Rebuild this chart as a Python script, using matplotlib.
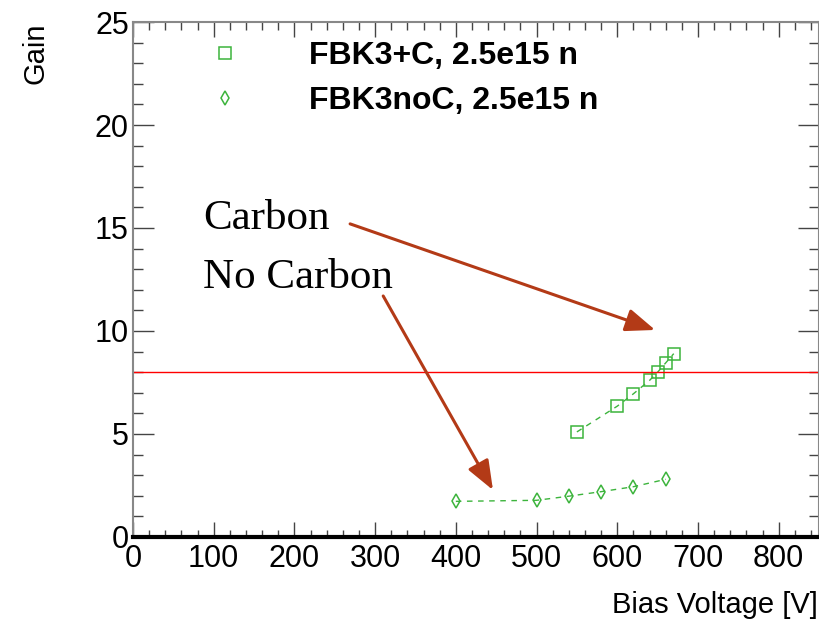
import numpy as np
import matplotlib
matplotlib.use("Agg")
import matplotlib.pyplot as plt
from matplotlib.ticker import MultipleLocator

# Data
carbon_v = [550, 600, 620, 640, 650, 660, 670]
carbon_gain = [5.1, 6.35, 6.95, 7.6, 8.0, 8.45, 8.9]
nocarbon_v = [400, 500, 540, 580, 620, 660]
nocarbon_gain = [1.73, 1.78, 1.98, 2.2, 2.44, 2.8]
threshold = 8.0
labels = ["FBK3+C, 2.5e15 n", "FBK3noC, 2.5e15 n"]

green = "#3cb43c"
arrow_col = "#b33a17"

plt.rcParams['font.family'] = ['Liberation Sans', 'DejaVu Sans']

fig = plt.figure(figsize=(8.2, 6.2), dpi=100)
ax = fig.add_axes([0.1622, 0.1339, 0.8366, 0.8306])

l1, = ax.plot(carbon_v, carbon_gain, linestyle=(0, (4, 4)), color=green, lw=1,
              marker='s', ms=8.5, mfc='none', mec=green, mew=1.1)
l2, = ax.plot(nocarbon_v, nocarbon_gain, linestyle=(0, (4, 4)), color=green, lw=1,
              marker='d', ms=7, mfc='none', mec=green, mew=1.1)
ax.axhline(threshold, color='red', lw=1)

ax.set_xlim(0, 850)
ax.set_ylim(0, 25)
ax.xaxis.set_major_locator(MultipleLocator(100))
ax.xaxis.set_minor_locator(MultipleLocator(20))
ax.yaxis.set_major_locator(MultipleLocator(5))
ax.yaxis.set_minor_locator(MultipleLocator(1))
ax.tick_params(axis='both', which='both', direction='in', top=True, right=True,
               colors='#444444', labelcolor='black', labelsize=22)
ax.tick_params(axis='x', which='major', length=11, width=1, pad=5)
ax.tick_params(axis='x', which='minor', length=5.4, width=1)
ax.tick_params(axis='y', which='major', length=14.8, width=1, pad=3)
ax.tick_params(axis='y', which='minor', length=7.4, width=1)
for s in ['left', 'top', 'right']:
    ax.spines[s].set_color('#888888')
    ax.spines[s].set_linewidth(1.5)
ax.spines['bottom'].set_color('black')
ax.spines['bottom'].set_linewidth(3)

leg = ax.legend([l1, l2], labels, loc='upper left',
                bbox_to_anchor=(209 / 820, 1 - 41 / 620), bbox_transform=fig.transFigure,
                frameon=False, prop={'weight': 'bold', 'size': 23},
                handlelength=1.0, handletextpad=2.12, labelspacing=0.48,
                borderpad=0, borderaxespad=0, numpoints=1)
for h in leg.legend_handles:
    h.set_linestyle('none')

ax.annotate("", xy=(647, 10.05), xytext=(269, 15.2),
            arrowprops=dict(arrowstyle="-|>,head_length=0.9,head_width=0.35",
                            color=arrow_col, lw=2.2, mutation_scale=20, shrinkA=0, shrinkB=0))
ax.annotate("", xy=(446, 2.28), xytext=(310, 11.7),
            arrowprops=dict(arrowstyle="-|>,head_length=0.9,head_width=0.35",
                            color=arrow_col, lw=2.2, mutation_scale=20, shrinkA=0, shrinkB=0))
ax.text(86.7, 14.95, "Carbon", family='Liberation Serif', fontsize=31, va='baseline')
ax.text(86.7, 12.1, "No Carbon", family='Liberation Serif', fontsize=31, va='baseline')

fig.text(36 / 820, 1 - 22 / 620, "Gain", rotation=90, ha='center', va='top', fontsize=21)
fig.text(818 / 820, 1 - 605 / 620, "Bias Voltage [V]", ha='right', va='center', fontsize=21)

fig.savefig("out.png", dpi=100)
